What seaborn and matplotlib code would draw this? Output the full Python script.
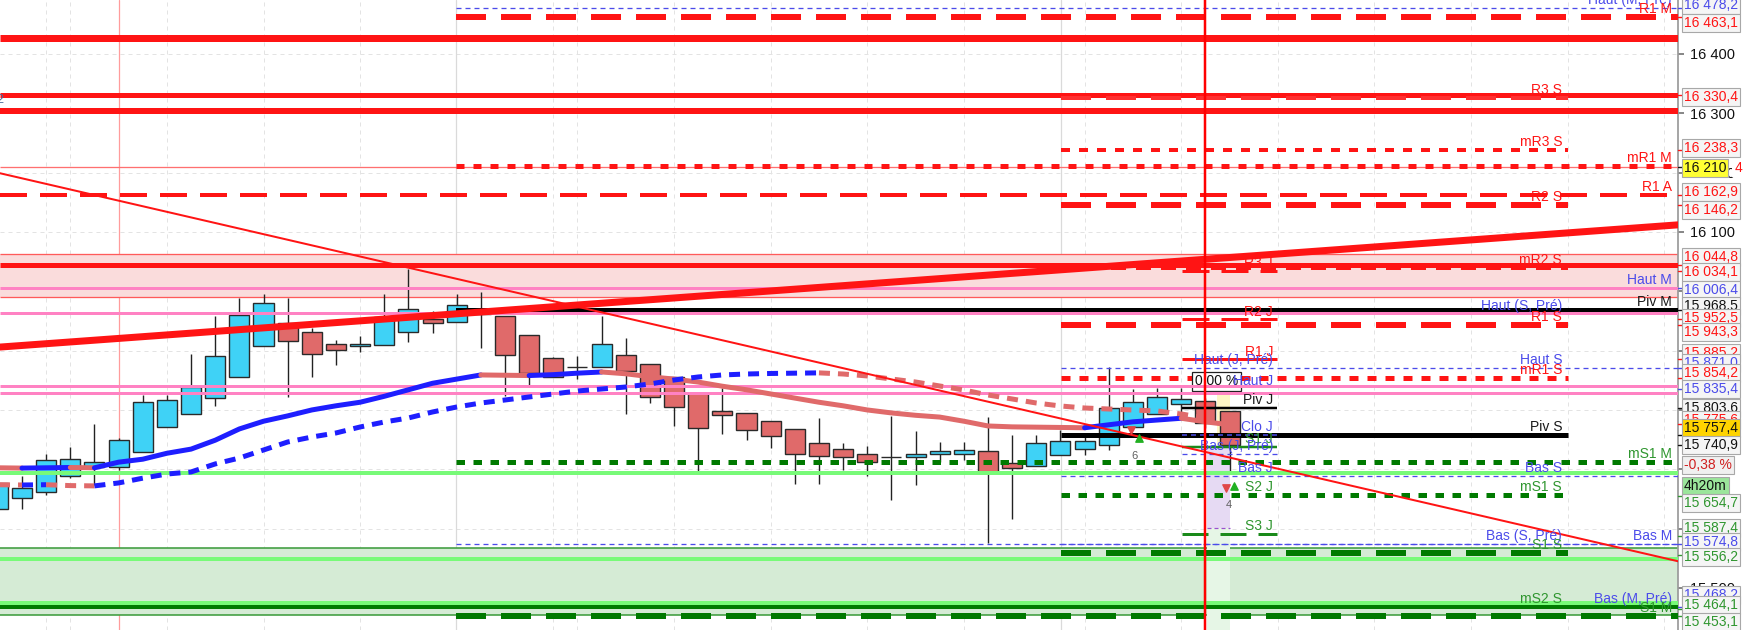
import matplotlib
matplotlib.use("Agg")
import matplotlib.pyplot as plt
import matplotlib.transforms as mtransforms
from matplotlib.patches import Rectangle
import numpy as np
import pandas as pd
import seaborn as sns

### Candles (index = bar number, 0 = first full bar on the left) ###

bar_idx = list(range(-1, 51))
opens = [15633, 15652, 15662, 15688, 15704, 15704, 15729, 15771, 15794, 15820,
         15855, 15908, 15946, 15931, 15912, 15907, 15909, 15931, 15953, 15948,
         15962, 15959, 15926, 15888, 15873, 15872, 15893, 15877, 15856, 15828,
         15799, 15795, 15781, 15768, 15745, 15734, 15726, 15721, 15721, 15725,
         15726, 15730, 15711, 15706, 15724, 15735, 15741, 15772, 15794, 15810,
         15815, 15798]
highs = [15680, 15688, 15726, 15738, 15776, 15752, 15826, 15826, 15894, 15958,
         15989, 15995, 15989, 15938, 15918, 15925, 15995, 16037, 15966, 15995,
         15998, 15959, 15926, 15890, 15891, 15958, 15922, 15877, 15856, 15828,
         15837, 15795, 15781, 15768, 15786, 15744, 15739, 15790, 15765, 15746,
         15746, 15788, 15758, 15758, 15766, 15761, 15872, 15835, 15837, 15837,
         15820, 15798]
lows = [15620, 15633, 15657, 15685, 15674, 15698, 15729, 15771, 15794, 15806,
        15855, 15908, 15821, 15856, 15875, 15897, 15909, 15915, 15930, 15948,
        15905, 15824, 15842, 15856, 15853, 15872, 15794, 15812, 15773, 15696,
        15760, 15749, 15736, 15675, 15675, 15698, 15688, 15649, 15673, 15712,
        15716, 15575, 15617, 15706, 15724, 15724, 15733, 15766, 15794, 15797,
        15770, 15696]
closes = [15677, 15669, 15716, 15718, 15712, 15749, 15813, 15817, 15839, 15891,
          15960, 15981, 15916, 15895, 15901, 15912, 15957, 15970, 15946, 15977,
          15962, 15893, 15862, 15856, 15873, 15911, 15866, 15821, 15805, 15770,
          15792, 15766, 15756, 15725, 15722, 15720, 15712, 15721, 15726, 15731,
          15733, 15695, 15702, 15744, 15748, 15748, 15804, 15814, 15822, 15819,
          15778, 15741]

### Moving averages ###

ma_fast = [15702.5, 15702, 15702.5, 15703, 15702.5, 15712, 15717, 15727, 15734, 15749,
           15768, 15781, 15790, 15800, 15807, 15813, 15823, 15834, 15845, 15852,
           15859, 15858.5, 15858, 15859.5, 15862, 15864, 15861, 15856, 15852, 15847,
           15840, 15834, 15827, 15820, 15813, 15807, 15800, 15795, 15791, 15788,
           15781, 15773, 15771.5, 15771, 15770.5, 15770, 15775, 15780, 15783, 15786,
           15780, 15775]
ma_slow = [15674, 15673.5, 15674, 15672.5, 15672, 15677, 15685, 15692, 15695.5, 15709,
           15719, 15732.5, 15746, 15754.4, 15761.2, 15771.3, 15779.7, 15786.5, 15796.6, 15805,
           15811.7, 15816.8, 15821.9, 15826.9, 15832, 15835.3, 15838.7, 15843.8, 15850.5, 15855.6,
           15859, 15860.6, 15861.5, 15862, 15862.5, 15860.6, 15857.3, 15852.2, 15847.1, 15840.4,
           15833.7, 15825.2, 15818.5, 15811.7, 15806.7, 15803.3, 15801.6, 15799.9, 15798.3, 15793.2,
           15786.5]

### Trend lines (value at left edge, value at right edge) ###

trend_up = [15906, 16112]
trend_down = [16199, 15545]

### Levels ###

month_names = ["Haut (M, Pré)", "R1 M", "mR1 M", "R1 A", "Haut M", "Piv M",
               "mS1 M", "Bas M", "Bas (M, Pré)", "S1 M"]
month_prices = [16478.2, 16463.1, 16212, 16162.9, 16006.4, 15968.5,
                15712.8, 15574.8, 15468.2, 15453.1]
week_names = ["R3 S", "mR3 S", "R2 S", "mR2 S", "Haut (S, Pré)", "R1 S", "Haut S",
              "mR1 S", "Piv S", "Bas S", "mS1 S", "Bas (S, Pré)", "S1 S", "mS2 S"]
week_prices = [16326, 16238.3, 16146.2, 16040, 15962.6, 15943.3, 15871.0,
               15854.2, 15758, 15689, 15657, 15574.8, 15559, 15468]
day_names = ["R3 J", "R2 J", "R1 J", "Haut (J, Pré)", "Haut J", "Piv J", "Clo J",
             "S1 J", "Bas (J, Pré)", "Bas J", "S2 J", "S3 J"]
day_prices = [16034.7, 15952.5, 15885.2, 15871.0, 15835.4, 15803.6, 15758,
              15738, 15726, 15689, 15657, 15591]

red_full = [16427, 16330.4, 16304, 16043.5]
pink_full = [16006.4, 15962.6, 15840.4, 15829.4]
lgreen_full = [15693.3, 15548.3, 15474.6]
red_zone = [15990.4, 16063.7]
green_zone = [15454.4, 15567.3]

### Price boxes on the right axis ###

box_texts = ["16 478,2", "16 463,1", "16 330,4", "16 238,3", "16 210", "16 162,9", "16 146,2",
             "16 044,8", "16 034,1", "16 006,4", "15 968,5", "15 952,5", "15 943,3", "15 885,2",
             "15 871,0", "15 854,2", "15 835,4", "15 803,6", "15 775,6", "15 757,4", "15 740,9",
             "-0,38 %", "4h20m", "15 654,7", "15 587,4", "15 574,8", "15 556,2", "15 468,2",
             "15 464,1", "15 453,1"]
box_prices = [16482.6, 16452.2, 16327.5, 16241.5, 16207.8, 16167.4, 16137.0,
              16057.8, 16032.5, 16002.2, 15975.2, 15955.0, 15931.4, 15896.0,
              15879.2, 15862.3, 15835.3, 15803.3, 15783.1, 15769.6, 15740.9,
              15707.3, 15671.8, 15643.2, 15601.1, 15577.5, 15552.2, 15488.1,
              15471.3, 15442.6]
box_kinds = ["b", "r", "r", "r", "y", "r", "r", "r", "r", "b", "k", "r", "r", "r",
             "b", "r", "b", "k", "r", "o", "k", "p", "t", "g", "g", "b", "g", "b",
             "g", "g"]

### Style ###

sns.set_theme(style="white")
plt.rcParams["font.family"] = ["Liberation Sans", "DejaVu Sans"]

RED = "#ff1414"
BLUE = "#4b4bea"
GREEN = "#2f962f"
DKGREEN = "#007a00"
PINK = "#ff82c3"
LGREEN = "#78fa78"
MA_UP = "#1e1eff"
MA_DOWN = "#e06a6a"

X_MIN, X_MAX = -0.911, 68.57
MONTH_X, WEEK_X, WEEK_END, DAY_X, DAY_END = 17.97, 43.02, 64.02, 48.03, 51.97
MONTH_LBL, WEEK_LBL, DAY_LBL = 68.32, 63.77, 51.8

fig = plt.figure(figsize=(17.43, 6.3), dpi=100)
ax = fig.add_axes([0, 0, 1678 / 1743, 1])


def hline(price, color, px, dash=None, x0=X_MIN, x1=X_MAX, z=3.0):
    ls = "-" if dash is None else (0, (dash[0] / px, dash[1] / px))
    ax.plot([x0, x1], [price, price], color=color, lw=px * 0.72, ls=ls, zorder=z,
            solid_capstyle="butt", dash_capstyle="butt")


def label_color(name):
    if name.startswith(("Haut", "Bas", "Clo")):
        return BLUE
    if name.startswith("Piv"):
        return "#1a1a1a"
    if "R" in name.split()[0]:
        return RED
    return GREEN


### Grid ###

for pr in range(15500, 16401, 100):
    hline(pr, "#e3e3e3", 1, (4, 4), z=0.5)
for gk in [1, 2, 6, 10, 14, 22, 23, 27, 31, 35, 39, 44, 48, 52, 56, 60, 64, 68]:
    ax.axvline(gk, color="#e3e3e3", lw=0.72, ls=(0, (4, 4)), zorder=0.5)
for gk in [MONTH_X, WEEK_X]:
    ax.axvline(gk, color="#dadada", lw=0.9, zorder=0.6)
ax.axvline(4, color="#ff9c9c", lw=0.9, zorder=0.7)

### Zones ###

ax.axhspan(red_zone[0], red_zone[1], color="#fadcdc", lw=0, zorder=0.8)
ax.axhspan(green_zone[0], green_zone[1], color="#d5ebd5", lw=0, zorder=0.8)
for pr in red_zone:
    hline(pr, "#ff5a5a", 1.3, z=0.9)
for pr in green_zone:
    hline(pr, "#3f9d3f", 1.6, z=0.9)

# current bar indicator strips
ax.add_patch(Rectangle((49.07, 15429), 0.95, 172, fc="#e6f6e6", lw=0, zorder=1.0))
ax.add_patch(Rectangle((49.07, 15601), 0.95, 137, fc="#e6daf3", lw=0, zorder=1.0))
ax.add_patch(Rectangle((49.5, 15741), 0.52, 84, fc="#fff6c4", lw=0, zorder=1.0))
hline(15601, "#9a4fd0", 1.2, (4, 3), 49.07, 50.02, z=1.1)

### Candles ###

df = pd.DataFrame({"k": bar_idx, "open": opens, "high": highs, "low": lows, "close": closes})
df["bull"] = df["close"] >= df["open"]
ax.vlines(df["k"], df["low"], df["high"], color="#222222", lw=1.0, zorder=2)
ax.bar(df["k"], (df["close"] - df["open"]).abs(), bottom=df[["open", "close"]].min(axis=1),
       width=0.83, color=np.where(df["bull"], "#3fd2f6", "#e06a6a"),
       edgecolor="#2a2a2a", linewidth=1.0, zorder=2.2)

### Level lines ###

for pr, px in zip(red_full, [7, 5, 6, 5]):
    hline(pr, RED, px, z=3)
hline(16209.5, "#ff7070", 1.3, z=3)
hline(month_prices[3], RED, 4, (27, 13))

blue_dash = (5, 4)
hline(month_prices[0], BLUE, 1.3, blue_dash, MONTH_X)
hline(month_prices[1], RED, 6, (30, 15), MONTH_X)
hline(month_prices[2], RED, 5, (8, 9), MONTH_X)
hline(month_prices[5], "#000000", 4, None, MONTH_X)
hline(month_prices[6], DKGREEN, 5, (8.5, 8.5), MONTH_X)
hline(month_prices[7], BLUE, 1.3, blue_dash, MONTH_X)
hline(month_prices[9], DKGREEN, 6, (30, 15), MONTH_X)

hline(week_prices[0], "#ff3030", 4, (30, 15), WEEK_X, WEEK_END)
hline(week_prices[1], RED, 4, (9, 9), WEEK_X, WEEK_END)
hline(week_prices[2], RED, 6, (30, 15), WEEK_X, WEEK_END)
hline(week_prices[3], RED, 4, (15, 10), WEEK_X, WEEK_END)
hline(week_prices[5], RED, 6, (30, 15), WEEK_X, WEEK_END)
hline(week_prices[6], BLUE, 1.3, blue_dash, WEEK_X)
hline(week_prices[7], RED, 5, (9, 9), WEEK_X, WEEK_END)
hline(week_prices[8], "#000000", 5, None, WEEK_X, WEEK_END)
hline(week_prices[9], BLUE, 1.3, blue_dash, WEEK_X)
hline(week_prices[10], DKGREEN, 5, (8.5, 8.5), WEEK_X, WEEK_END)
hline(week_prices[11], BLUE, 1.3, blue_dash, WEEK_X)
hline(week_prices[12], DKGREEN, 6, (30, 15), WEEK_X, WEEK_END)

hline(day_prices[0], RED, 3, (27, 12), DAY_X, DAY_END)
hline(day_prices[1], RED, 3, (27, 12), DAY_X, DAY_END)
hline(day_prices[2], RED, 3, None, DAY_X, DAY_END)
hline(day_prices[5], "#000000", 2.5, None, DAY_X, DAY_END)
hline(day_prices[6], BLUE, 1.5, blue_dash, DAY_X, DAY_END)
hline(day_prices[7], "#1a8a1a", 2.5, None, DAY_X, DAY_END)
hline(day_prices[8], BLUE, 1.3, blue_dash, DAY_X, DAY_END)
hline(day_prices[11], "#1a8a1a", 3, (26, 12), DAY_X, DAY_END)

for pr in pink_full:
    hline(pr, PINK, 3, z=3.4)
for pr in lgreen_full:
    hline(pr, LGREEN, 4, z=3.3)
hline(15468, DKGREEN, 4, z=3.3)

### Moving averages ###


def draw_ma(values, style, px):
    xs = np.array(bar_idx[:len(values)], dtype=float)
    vals = np.array(values, dtype=float)
    up = np.diff(vals) >= 0
    start = 0
    for i in range(1, len(up) + 1):
        if i == len(up) or up[i] != up[start]:
            sns.lineplot(x=xs[start:i + 1], y=vals[start:i + 1],
                         color=MA_UP if up[start] else MA_DOWN, lw=px * 0.72,
                         linestyle=style, sort=False, estimator=None, errorbar=None,
                         legend=False, ax=ax, zorder=3.6)
            start = i


draw_ma(ma_fast, "-", 5)
draw_ma(ma_slow, (0, (2.2, 1.6)), 5)

### Trend lines ###

ax.plot([X_MIN, X_MAX], trend_up, color=RED, lw=7 * 0.72, zorder=3.7)
ax.plot([X_MIN, X_MAX], trend_down, color=RED, lw=2 * 0.72, zorder=3.7)

ax.axvline(49, color="#ff0000", lw=2.5 * 0.72, zorder=8)

### Small markers near the last bars ###

ax.scatter([45.9, 49.85], [15766, 15668], marker="v", s=28, color="#e04848", zorder=5)
ax.scatter([46.25, 50.2], [15752, 15672], marker="^", s=28, color="#22b022", zorder=5)
ax.text(46.05, 15722, "6", fontsize=8, color="#606060", ha="center", va="center", zorder=5)
ax.text(49.95, 15640, "4", fontsize=8, color="#606060", ha="center", va="center", zorder=5)
ax.text(48.55, 15848, "0,00 %", fontsize=10, color="#111111", ha="left", va="center", zorder=3.35,
        bbox=dict(boxstyle="square,pad=0.2", fc="white", ec="#222222", lw=0.9))
ax.text(X_MIN, 16322, "2", fontsize=9, color="#4a6a9a", ha="center", va="center", zorder=5)

### Level labels ###

for names, prices, xl in [(month_names, month_prices, MONTH_LBL),
                          (week_names, week_prices, WEEK_LBL),
                          (day_names, day_prices, DAY_LBL)]:
    for nm, pr in zip(names, prices):
        ax.text(xl, pr + 1, nm, ha="right", va="bottom", fontsize=10,
                color=label_color(nm), zorder=6)

### Axes ###

ax.set_xlim(X_MIN, X_MAX)
ax.set_ylim(15429.1, 16491)
ax.set_xticks([])
ax.yaxis.tick_right()
yt = list(range(15500, 16401, 100))
ax.set_yticks(yt)
ax.set_yticklabels([f"{v:,}".replace(",", " ") for v in yt], fontsize=10.5)
ax.tick_params(axis="y", length=4, color="#777777", pad=5, labelcolor="#111111", right=True)
for s in ["top", "left", "bottom"]:
    ax.spines[s].set_visible(False)
ax.spines["right"].set_color("#9a9a9a")
ax.set_facecolor("white")

trans = mtransforms.blended_transform_factory(ax.transAxes, ax.transData)
kind_style = {"r": (RED, "#f5f5f5"), "b": (BLUE, "#f5f5f5"), "k": ("#111111", "#f5f5f5"),
              "g": (GREEN, "#f5f5f5"), "y": ("#111111", "#ffff33"), "o": ("#111111", "#ffd400"),
              "p": ("#d02020", "#f0f0f0"), "t": ("#111111", "#9be59b")}
for i, (txt, yp, kd) in enumerate(zip(box_texts, box_prices, box_kinds)):
    col, bg = kind_style[kd]
    ax.text(1.0036, yp, txt, transform=trans, ha="left", va="center", fontsize=10, color=col,
            bbox=dict(boxstyle="square,pad=0.13", fc=bg, ec="#a8a8a8", lw=0.8),
            zorder=10 + i, clip_on=False)
    if kd in "rbkgyo":
        val = float(txt.replace(" ", "").replace(",", "."))
        ax.plot([1.0, 1.004], [val, val], transform=trans, color=col, lw=1, clip_on=False, zorder=9)
ax.text(1.0335, box_prices[4], "4", transform=trans, ha="left", va="center", fontsize=10,
        color=RED, zorder=40, clip_on=False,
        bbox=dict(boxstyle="square,pad=0.13", fc="white", ec="none"))

plt.savefig("out.png", dpi=100)
